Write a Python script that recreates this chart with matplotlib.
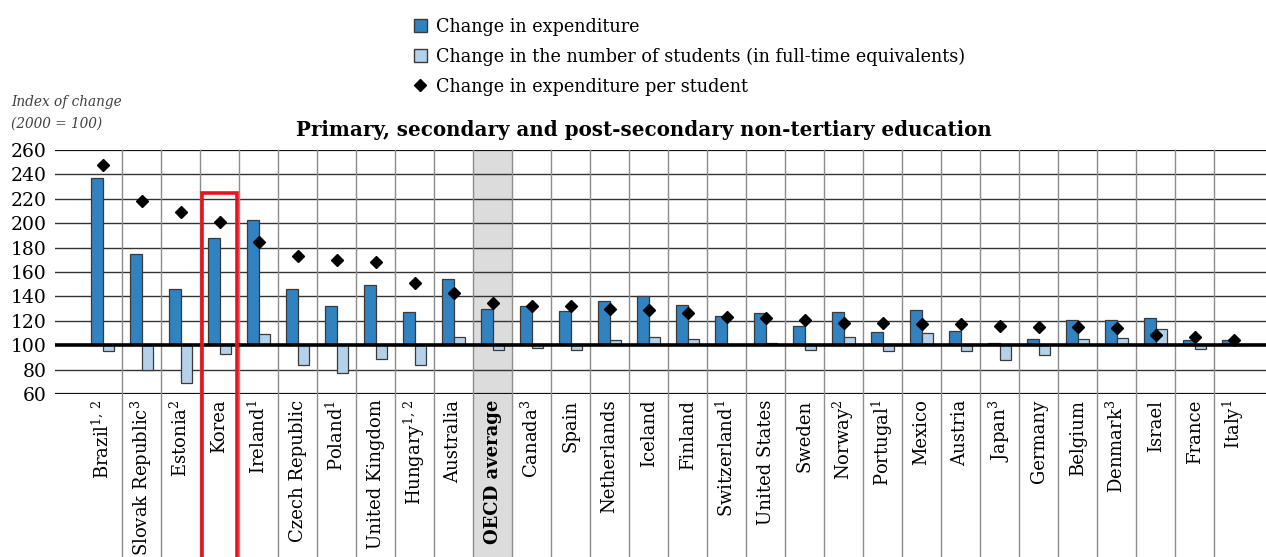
import matplotlib
matplotlib.use("Agg")
import matplotlib.pyplot as plt
from matplotlib.patches import Patch, Rectangle
from matplotlib.lines import Line2D
import numpy as np

plt.rcParams['font.family'] = ['DejaVu Serif']
plt.rcParams['mathtext.fontset'] = 'dejavuserif'

countries = ["Brazil$^{1,\\,2}$", "Slovak Republic$^{3}$", "Estonia$^{2}$", "Korea",
             "Ireland$^{1}$", "Czech Republic", "Poland$^{1}$", "United Kingdom",
             "Hungary$^{1,\\,2}$", "Australia", "OECD average", "Canada$^{3}$", "Spain",
             "Netherlands", "Iceland", "Finland", "Switzerland$^{1}$", "United States",
             "Sweden", "Norway$^{2}$", "Portugal$^{1}$", "Mexico", "Austria", "Japan$^{3}$",
             "Germany", "Belgium", "Denmark$^{3}$", "Israel", "France", "Italy$^{1}$"]
expenditure = [237, 175, 146, 188, 203, 146, 132, 149, 127, 154, 130, 132, 128, 136, 140,
               133, 124, 126, 116, 127, 111, 129, 112, 102, 105, 121, 121, 122, 104, 104]
students = [95, 80, 69, 93, 109, 84, 77, 89, 84, 107, 96, 98, 96, 104, 107,
            105, 100, 102, 96, 107, 95, 110, 95, 88, 92, 105, 106, 113, 97, 100]
per_student = [248, 218, 209, 201, 185, 173, 170, 168, 151, 143, 135, 132, 132, 130, 129,
               126, 123, 122, 121, 118, 118, 117, 117, 116, 115, 115, 114, 108, 107, 104]
yticks = [60, 80, 100, 120, 140, 160, 180, 200, 220, 240, 260]
oecd_index = 10
highlight_index = 3

W, H = 1266, 557
fig = plt.figure(figsize=(W / 100, H / 100), dpi=100)
ax_l, ax_r, ax_t, ax_b = 55, 1266, 150, 394
ax = fig.add_axes([ax_l / W, 1 - ax_b / H, (ax_r - ax_l) / W, (ax_b - ax_t) / H])

n = len(countries)
x = np.arange(n)
ax.set_xlim(-1.218, 29.83)
ax.set_ylim(60, 260)

dark = '#3182c0'
light = '#b5d1ea'
edge = '#3a3a3a'
bw = 0.29

ext = -(557 - ax_b) / (ax_b - ax_t) - 0.05  # extend into label area (axes fraction)

# grey OECD band
ax.axvspan(oecd_index - 0.5, oecd_index + 0.5, ymin=ext, ymax=1, color='#dcdcdd',
           zorder=0, clip_on=False, lw=0)

# horizontal grid
for yv in yticks:
    if yv == 100:
        ax.axhline(yv, color='black', lw=2.6, zorder=4)
    elif yv in (60, 260):
        ax.axhline(yv, color='#111111', lw=1.6, zorder=1)
    else:
        ax.axhline(yv, color='#333333', lw=1.0, zorder=1)

# vertical separators
for xv in np.arange(0.5, n - 1, 1.0):
    ax.axvline(xv, ymin=ext, ymax=1, color='#8c8c8c', lw=1.0, zorder=1, clip_on=False)

exp_arr = np.array(expenditure) - 100
stu_arr = np.array(students) - 100
ax.bar(x - bw / 2, exp_arr, bottom=100, width=bw, color=dark, edgecolor=edge, lw=0.9, zorder=3)
ax.bar(x + bw / 2, stu_arr, bottom=100, width=bw, color=light, edgecolor=edge, lw=0.9, zorder=3)
ax.plot(x, per_student, ls='none', marker='D', ms=6.2, color='black', zorder=5)

# red highlight box around Korea
ytop = 100 + (344.7 - 192) / 1.22
ybot = 60 - (570 - ax_b) / 1.22
ax.add_patch(Rectangle((highlight_index - 0.45, ybot), 0.9, ytop - ybot, fill=False,
                       edgecolor='#e8141b', lw=2.6, zorder=6, clip_on=False))

for s in ax.spines.values():
    s.set_visible(False)
ax.set_yticks(yticks)
ax.set_yticklabels([str(v) for v in yticks], fontsize=13.5)
ax.set_xticks(x)
ax.set_xticklabels(countries, rotation=90, fontsize=13)
ax.get_xticklabels()[oecd_index].set_fontweight('bold')
ax.tick_params(axis='both', length=0)
ax.tick_params(axis='y', pad=6)
ax.tick_params(axis='x', pad=4)

fig.text(11 / W, 1 - 102 / H, "Index of change", fontsize=9.8, style='italic',
         color='#404040', va='center', ha='left')
fig.text(11 / W, 1 - 124 / H, "(2000 = 100)", fontsize=9.8, style='italic',
         color='#404040', va='center', ha='left')
fig.text(644 / W, 1 - 130 / H, "Primary, secondary and post-secondary non-tertiary education",
         fontsize=14.3, fontweight='bold', ha='center', va='center')

handles = [Patch(facecolor=dark, edgecolor=edge, lw=1.0),
           Patch(facecolor=light, edgecolor=edge, lw=1.0),
           Line2D([], [], ls='none', marker='D', ms=6.5, color='black')]
labels = ["Change in expenditure",
          "Change in the number of students (in full-time equivalents)",
          "Change in expenditure per student"]
fig.legend(handles, labels, loc='upper left', bbox_to_anchor=(410 / W, 1 - 14 / H),
           frameon=False, fontsize=12.7, handlelength=0.75, handleheight=0.75,
           handletextpad=0.5, labelspacing=0.68, borderaxespad=0, borderpad=0.2)

fig.savefig("out.png", dpi=100)
